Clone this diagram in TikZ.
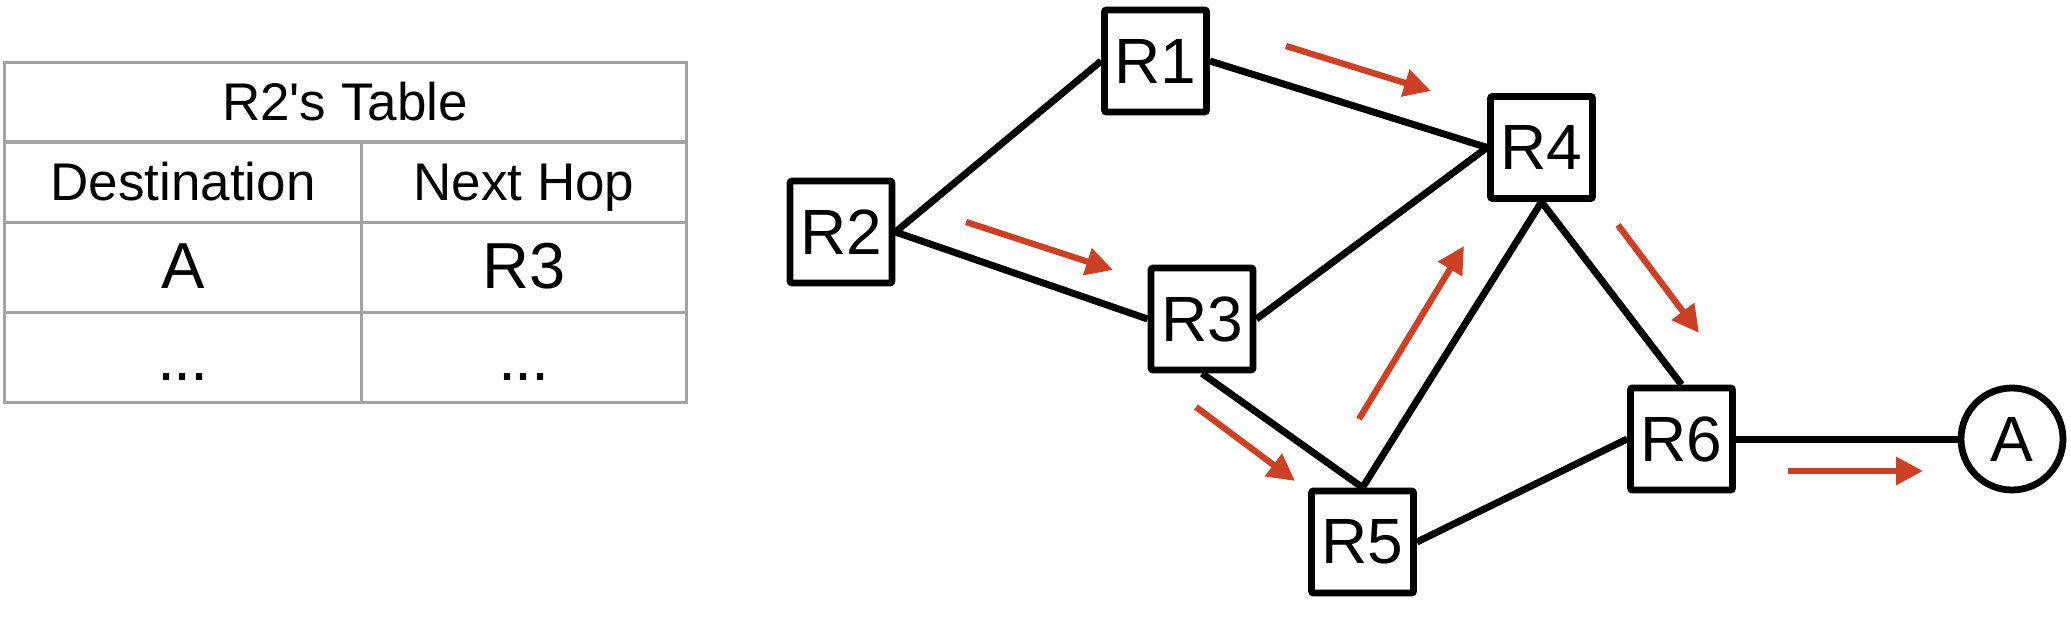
\documentclass[tikz,border=0pt]{standalone}
\usepackage{fontspec}
\setmainfont{Liberation Sans}[Ligatures=TeXOff]
\usetikzlibrary{arrows.meta}
\definecolor{flow}{HTML}{CC4125}
\definecolor{gridgray}{HTML}{A3A3A3}
\begin{document}
\begin{tikzpicture}[x=1pt,y=-1pt,
  router/.style={draw, line width=6.8pt, minimum width=102pt, minimum height=102pt,
    inner sep=0pt, rounded corners=2pt, font=\fontsize{64}{70}\selectfont},
  host/.style={draw, circle, line width=6.8pt, minimum size=102pt, inner sep=0pt,
    font=\fontsize{64}{70}\selectfont},
  link/.style={line width=7pt},
  flowarrow/.style={draw=flow, line width=6.3pt, -{Triangle[length=27pt,width=27pt]}},
  tableline/.style={draw=gridgray, line width=3pt},
  headcell/.style={anchor=base, inner sep=0pt, font=\fontsize{53}{60}\selectfont},
  datacell/.style={anchor=base, inner sep=0pt, font=\fontsize{65}{70}\selectfont}]
\useasboundingbox (0,0) rectangle (2071,623);

% ---- table ----
\draw[tableline] (4.5,63) rectangle (686,402);
\draw[tableline] (4.5,142) -- (686,142);
\draw[tableline] (4.5,222) -- (686,222);
\draw[tableline] (4.5,312) -- (686,312);
\draw[tableline] (361,142) -- (361,402);
\node[headcell] (title) at (345,121) {R2's Table};
\node[headcell] (hdest) at (183,200) {Destination};
\node[headcell] (hhop) at (524,200) {Next Hop};
\node[datacell] (dA) at (183,288) {A};
\node[datacell] (dR3) at (524,288) {R3};
\node[datacell] (e1) at (183,380) {.\kern-1.5pt.\kern-1.5pt.};
\node[datacell] (e2) at (524,380) {.\kern-1.5pt.\kern-1.5pt.};

% ---- routers ----
\node[router] (r1) at (1155.5,61) {R1};
\node[router] (r2) at (841,232) {R2};
\node[router] (r3) at (1202,319) {R3};
\node[router] (r4) at (1541.5,147.5) {R4};
\node[router] (r5) at (1362.5,542) {R5};
\node[router] (r6) at (1681.5,439) {R6};
\node[host] (a) at (2012,439) {A};

% ---- links ----
\draw[link] (r2.east) -- (r1.west);
\draw[link] (r2.east) -- (r3.west);
\draw[link] (r1.east) -- (r4.west);
\draw[link] (r3.east) -- (r4.west);
\draw[link] (r3.south) -- (r5.north);
\draw[link] (r4.south) -- (r5.north);
\draw[link] (r4.south) -- (r6.north);
\draw[link] (r5.east) -- (r6.west);
\draw[link] (r6.east) -- (a.west);

% ---- flow arrows ----
\coordinate (f1s) at (1286,46);   \coordinate (f1e) at (1431,91);
\coordinate (f2s) at (966,222);   \coordinate (f2e) at (1113,270);
\coordinate (f3s) at (1618,225);  \coordinate (f3e) at (1699,333);
\coordinate (f4s) at (1359,419);  \coordinate (f4e) at (1464,246);
\coordinate (f5s) at (1196,407);  \coordinate (f5e) at (1295,481);
\coordinate (f6s) at (1788,471);  \coordinate (f6e) at (1923,471);
\draw[flowarrow] (f1s) -- (f1e);
\draw[flowarrow] (f2s) -- (f2e);
\draw[flowarrow] (f3s) -- (f3e);
\draw[flowarrow] (f4s) -- (f4e);
\draw[flowarrow] (f5s) -- (f5e);
\draw[flowarrow] (f6s) -- (f6e);
\end{tikzpicture}
\end{document}
